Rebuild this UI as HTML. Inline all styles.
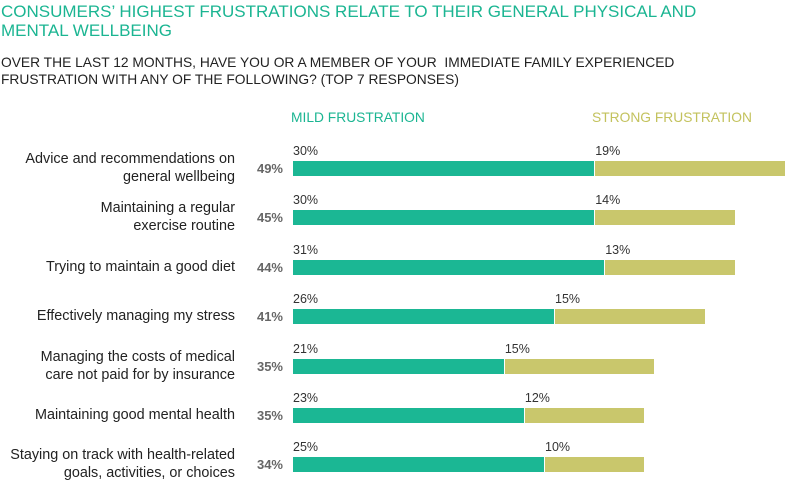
<!DOCTYPE html><html><head><style>
body{margin:0;width:786px;height:483px;background:#fff;font-family:"Liberation Sans",sans-serif;position:relative;overflow:hidden}
.a{position:absolute;white-space:nowrap}
.t{color:#1bb592;font-size:17px;line-height:19px;left:1px;top:2px}
.s{color:#222;font-size:13.8px;line-height:17px;left:1px;top:54px}
.lg{font-size:13.8px;top:110px}
.lab{right:551px;text-align:right;font-size:14.4px;line-height:18px;color:#222}
.tot{right:503px;font-size:13px;font-weight:bold;color:#666}
.v{font-size:12.5px;color:#333}
.b{height:15px}
</style></head><body>
<div class="a t">CONSUMERS’ HIGHEST FRUSTRATIONS RELATE TO THEIR GENERAL PHYSICAL AND<br>MENTAL WELLBEING</div>
<div class="a s">OVER THE LAST 12 MONTHS, HAVE YOU OR A MEMBER OF YOUR &nbsp;IMMEDIATE FAMILY EXPERIENCED<br>FRUSTRATION WITH ANY OF THE FOLLOWING? (TOP 7 RESPONSES)</div>
<div class="a lg" style="left:291px;color:#1bb592">MILD FRUSTRATION</div>
<div class="a lg" style="left:592px;color:#c3c25d">STRONG FRUSTRATION</div>
<div id="c"></div>
<script>
var d=[["Advice and recommendations on<br>general wellbeing",49,30,19],["Maintaining a regular<br>exercise routine",45,30,14],["Trying to maintain a good diet",44,31,13],["Effectively managing my stress",41,26,15],["Managing the costs of medical<br>care not paid for by insurance",35,21,15],["Maintaining good mental health",35,23,12],["Staying on track with health-related<br>goals, activities, or choices",34,25,10]];
var h="",k=10.04,x0=293;
d.forEach(function(r,i){var y=161+i*49.4;var two=r[0].indexOf("<br>")>0;
h+='<div class="a lab" style="top:'+(two?y-11:y-2)+'px">'+r[0]+'</div>';
h+='<div class="a tot" style="top:'+(y)+'px">'+r[1]+'%</div>';
var w1=r[2]*k,w2=r[3]*k;
h+='<div class="a b" style="left:'+x0+'px;top:'+y+'px;width:'+w1+'px;background:#1bb794"></div>';
h+='<div class="a b" style="left:'+(x0+w1+1)+'px;top:'+y+'px;width:'+(w2-1)+'px;background:#c9c76c"></div>';
h+='<div class="a v" style="left:'+(x0)+'px;top:'+(y-17)+'px">'+r[2]+'%</div>';
h+='<div class="a v" style="left:'+(x0+w1+1)+'px;top:'+(y-17)+'px">'+r[3]+'%</div>';});
document.getElementById("c").innerHTML=h;
</script>
</body></html>
